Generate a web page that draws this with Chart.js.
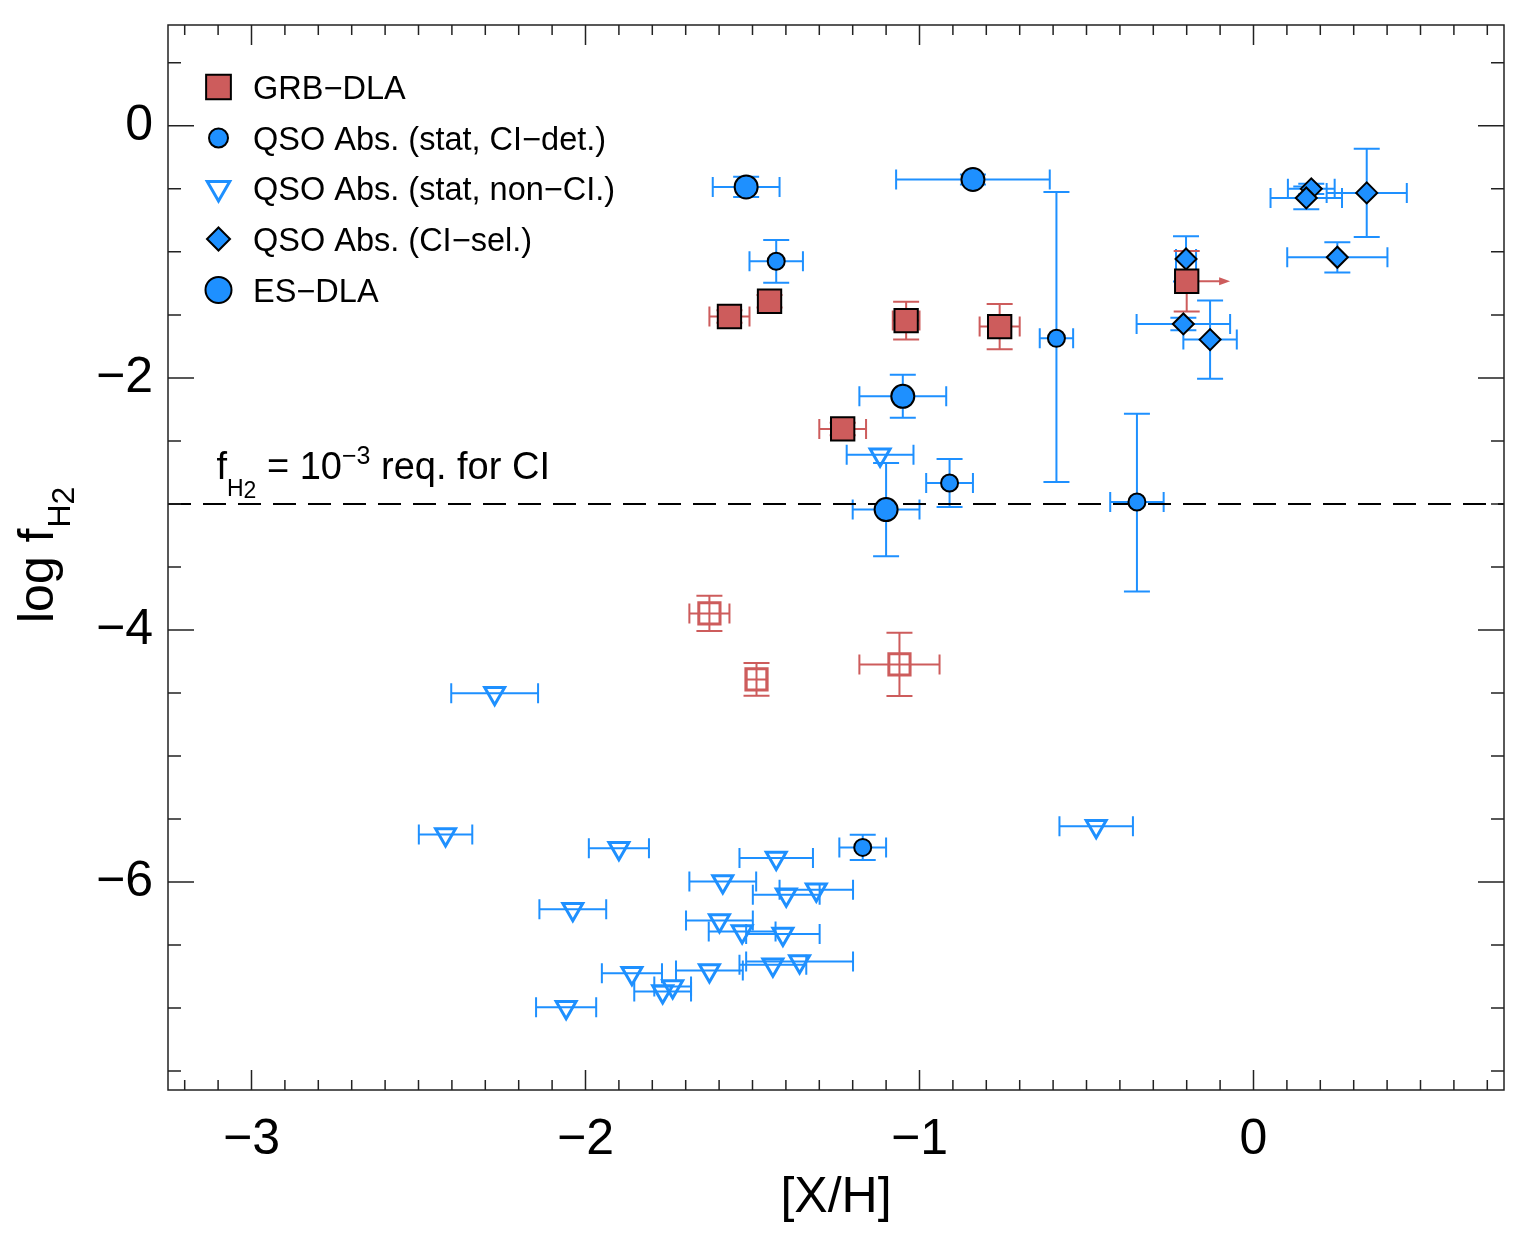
<!DOCTYPE html>
<html>
<head>
<meta charset="utf-8">
<script src="https://cdn.jsdelivr.net/npm/chart.js@4.4.1/dist/chart.umd.min.js"></script>
<style>
  html, body { margin: 0; padding: 0; background: #fff; }
  canvas { display: block; }
</style>
</head>
<body>
<canvas id="fh2" width="1536" height="1240"></canvas>
<script>
// axis ticks
const xTicks = [-3, -2, -1, 0]
const yTicks = [-6, -4, -2, 0]

// GRB-DLA, filled squares
const grbX    = [-1.569, -1.449, -1.040, -0.760, -1.230, -0.200]
const grbY    = [-1.513, -1.392, -1.545, -1.593, -2.405, -1.233]
const grbXErr = [0.06, 0.03, 0.04, 0.06, 0.07, 0]
const grbYErr = [0.05, 0.05, 0.15, 0.18, 0.05, 0.24]
const grbXLim = [0, 0, 0, 0, 0, 0.13]   // lower limit in [X/H] -> arrow

// GRB-DLA, open squares
const grbOpenX    = [-1.629, -1.488, -1.060]
const grbOpenY    = [-3.869, -4.392, -4.273]
const grbOpenXErr = [0.06, 0.03, 0.12]
const grbOpenYErr = [0.14, 0.13, 0.25]

// QSO abs. (stat, CI-det.)
const qsoDetX     = [-1.429, -0.590, -0.910, -0.349, -1.170]
const qsoDetY     = [-1.075, -1.686, -2.834, -2.985, -5.725]
const qsoDetXErr  = [0.08, 0.05, 0.07, 0.08, 0.07]
const qsoDetYErrL = [0.17, 1.14, 0.19, 0.71, 0.10]
const qsoDetYErrH = [0.17, 1.16, 0.19, 0.70, 0.10]

// QSO abs. (stat, non-CI) -> upper limits
const qsoNonX = [-1.118, -2.272, -2.419, -0.471, -1.900, -1.429, -1.589, -1.399, -1.309, -2.038,
                 -1.599, -1.531, -1.409, -1.861, -1.629, -1.439, -1.359, -1.769, -1.739, -2.058]
const qsoNonY = [-2.609, -4.503, -5.622, -5.558, -5.731, -5.810, -5.995, -6.101, -6.061, -6.215,
                 -6.305, -6.392, -6.413, -6.723, -6.702, -6.656, -6.630, -6.868, -6.829, -6.993]
const qsoNonXErr = [0.10, 0.13, 0.08, 0.11, 0.09, 0.11, 0.10, 0.10, 0.11, 0.10,
                    0.10, 0.10, 0.11, 0.09, 0.10, 0.10, 0.16, 0.085, 0.055, 0.09]

// QSO abs. (CI-sel.)
const qsoSelX    = [-0.202, -0.210, -0.130, 0.173, 0.158, 0.339, 0.251]
const qsoSelY    = [-1.056, -1.572, -1.696, -0.500, -0.572, -0.532, -1.043]
const qsoSelXErr = [0.03, 0.14, 0.08, 0.07, 0.107, 0.12, 0.15]
const qsoSelYErr = [0.18, 0.05, 0.31, 0.04, 0.09, 0.35, 0.12]

// ES-DLA
const esX    = [-1.519, -0.840, -1.050, -1.100]
const esY    = [-0.485, -0.426, -2.146, -3.045]
const esXErr = [0.10, 0.23, 0.13, 0.10]
const esYErr = [0.08, 0.04, 0.17, 0.37]

// threshold line
const threshY = -3
const legendLabels = ['GRB\u2212DLA', 'QSO Abs. (stat, CI\u2212det.)', 'QSO Abs. (stat, non\u2212CI.)', 'QSO Abs. (CI\u2212sel.)', 'ES\u2212DLA']

const RED = '#CD5C5C'
const BLUE = '#1E90FF'
const FONT = "'Liberation Sans', Arial, Helvetica, sans-serif"

const pts = (xs, ys) => xs.map((x, i) => ({x: x, y: ys[i]}))
const minus = v => (v < 0 ? '\u2212' : '') + Math.abs(v)

// error bar groups (drawn under the symbols)
const errGroups = [
  {x: grbOpenX, y: grbOpenY, xe: grbOpenXErr, yl: grbOpenYErr, yh: grbOpenYErr, color: RED},
  {x: qsoNonX, y: qsoNonY, xe: qsoNonXErr, yl: null, yh: null, color: BLUE},
  {x: qsoSelX, y: qsoSelY, xe: qsoSelXErr, yl: qsoSelYErr, yh: qsoSelYErr, color: BLUE},
  {x: qsoDetX, y: qsoDetY, xe: qsoDetXErr, yl: qsoDetYErrL, yh: qsoDetYErrH, color: BLUE},
  {x: esX, y: esY, xe: esXErr, yl: esYErr, yh: esYErr, color: BLUE},
  {x: grbX, y: grbY, xe: grbXErr, yl: grbYErr, yh: grbYErr, color: RED, lim: grbXLim},
]

const errorBars = {
  id: 'errorBars',
  beforeDatasetsDraw(chart) {
    const c = chart.ctx, sx = chart.scales.x, sy = chart.scales.y
    c.save()
    c.lineWidth = 2
    errGroups.forEach(g => {
      c.strokeStyle = g.color
      c.fillStyle = g.color
      g.x.forEach((xv, i) => {
        const px = sx.getPixelForValue(xv), py = sy.getPixelForValue(g.y[i])
        if (g.xe && g.xe[i] > 0) {
          const a = sx.getPixelForValue(xv - g.xe[i]), b = sx.getPixelForValue(xv + g.xe[i])
          c.beginPath()
          c.moveTo(a, py); c.lineTo(b, py)
          c.moveTo(a, py - 10); c.lineTo(a, py + 10)
          c.moveTo(b, py - 10); c.lineTo(b, py + 10)
          c.stroke()
        }
        if (g.yl && g.yl[i] > 0) {
          const a = sy.getPixelForValue(g.y[i] + g.yh[i]), b = sy.getPixelForValue(g.y[i] - g.yl[i])
          c.beginPath()
          c.moveTo(px, a); c.lineTo(px, b)
          c.moveTo(px - 13, a); c.lineTo(px + 13, a)
          c.moveTo(px - 13, b); c.lineTo(px + 13, b)
          c.stroke()
        }
        if (g.lim && g.lim[i] > 0) {
          const e = sx.getPixelForValue(xv + g.lim[i])
          c.beginPath()
          c.moveTo(px, py); c.lineTo(e - 8, py)
          c.stroke()
          c.beginPath()
          c.moveTo(e, py); c.lineTo(e - 11, py - 4); c.lineTo(e - 11, py + 4)
          c.closePath(); c.fill()
        }
      })
    })
    c.restore()
  }
}

// IDL-like frame: inward ticks on all four sides, legend, labels
function marker(c, type, x, y, r) {
  c.beginPath()
  if (type === 'square') {
    const h = r * Math.SQRT1_2
    c.rect(x - h, y - h, 2 * h, 2 * h)
  } else if (type === 'circle') {
    c.arc(x, y, r, 0, Math.PI * 2)
  } else if (type === 'tri') {
    c.moveTo(x, y + r)
    c.lineTo(x - r * 0.866, y - r * 0.5)
    c.lineTo(x + r * 0.866, y - r * 0.5)
    c.closePath()
  } else if (type === 'diamond') {
    c.moveTo(x, y - r); c.lineTo(x + r, y); c.lineTo(x, y + r); c.lineTo(x - r, y)
    c.closePath()
  }
}

const frame = {
  id: 'frame',
  afterDraw(chart) {
    const c = chart.ctx, a = chart.chartArea, sx = chart.scales.x, sy = chart.scales.y
    c.save()
    c.strokeStyle = '#222'
    c.lineWidth = 1.5
    c.strokeRect(a.left, a.top, a.right - a.left, a.bottom - a.top)
    c.beginPath()
    for (let k = -32; k <= 7; k++) {
      const px = sx.getPixelForValue(k / 10)
      const len = k % 10 === 0 ? 20 : 10
      c.moveTo(px, a.bottom); c.lineTo(px, a.bottom - len)
      c.moveTo(px, a.top); c.lineTo(px, a.top + len)
    }
    for (let k = -15; k <= 1; k++) {
      const py = sy.getPixelForValue(k / 2)
      const len = k % 4 === 0 ? 26 : 13
      c.moveTo(a.left, py); c.lineTo(a.left + len, py)
      c.moveTo(a.right, py); c.lineTo(a.right - len, py)
    }
    c.stroke()

    // legend
    const rows = [87, 138, 188, 239, 290]
    const syms = [
      {t: 'square', r: 17.5, fill: RED, stroke: '#000', w: 2},
      {t: 'circle', r: 9.5, fill: BLUE, stroke: '#000', w: 2},
      {t: 'tri', r: 13, fill: null, stroke: BLUE, w: 3},
      {t: 'diamond', r: 11.5, fill: BLUE, stroke: '#000', w: 2},
      {t: 'circle', r: 13, fill: BLUE, stroke: '#000', w: 2},
    ]
    syms.forEach((s, i) => {
      marker(c, s.t, 218.5, rows[i], s.r)
      if (s.fill) { c.fillStyle = s.fill; c.fill() }
      c.lineWidth = s.w; c.strokeStyle = s.stroke; c.stroke()
      c.fillStyle = '#000'
      c.font = '32.5px ' + FONT
      c.textAlign = 'left'; c.textBaseline = 'alphabetic'
      c.fillText(legendLabels[i], 253, rows[i] + 12)
    })

    // threshold annotation
    let tx = sx.getPixelForValue(-3.105), ty = sy.getPixelForValue(-2.805)
    const put = (s, size, dy) => {
      c.font = size + 'px ' + FONT
      c.fillText(s, tx, ty + dy)
      tx += c.measureText(s).width
    }
    put('f', 38, 0)
    put('H', 23, 17)
    put('2', 23, 19)
    put(' = 10', 38, 0)
    put('\u22123', 25, -15)
    put(' req. for CI', 38, 0)

    // axis titles
    c.font = '50px ' + FONT
    c.textAlign = 'center'
    c.fillText('[X/H]', 836, 1212)
    c.save()
    c.translate(53, 623)
    c.rotate(-Math.PI / 2)
    c.textAlign = 'left'
    c.font = '50px ' + FONT
    c.fillText('log f', 0, 0)
    const w = c.measureText('log f').width
    c.font = '32px ' + FONT
    c.fillText('H', w + 1, 17)
    const wh = c.measureText('H').width
    c.fillText('2', w + 1 + wh, 21)
    c.restore()
    c.restore()
  }
}

new Chart(document.getElementById('fh2'), {
  type: 'scatter',
  data: {
    datasets: [
      {label: 'GRB-DLA', data: pts(grbX, grbY), pointStyle: 'rect', pointRadius: 16.5,
       backgroundColor: RED, borderColor: '#000', borderWidth: 2},
      {label: 'ES-DLA', data: pts(esX, esY), pointStyle: 'circle', pointRadius: 11.5,
       backgroundColor: BLUE, borderColor: '#000', borderWidth: 2},
      {label: 'QSO CI-det', data: pts(qsoDetX, qsoDetY), pointStyle: 'circle', pointRadius: 8.5,
       backgroundColor: BLUE, borderColor: '#000', borderWidth: 2},
      {label: 'QSO CI-sel', data: pts(qsoSelX, qsoSelY), pointStyle: 'rectRot', pointRadius: 10.5,
       backgroundColor: BLUE, borderColor: '#000', borderWidth: 2},
      {label: 'QSO non-CI', data: pts(qsoNonX, qsoNonY), pointStyle: 'triangle', rotation: 180,
       pointRadius: 11.5, backgroundColor: 'rgba(0,0,0,0)', borderColor: BLUE, borderWidth: 3},
      {label: 'GRB-DLA open', data: pts(grbOpenX, grbOpenY), pointStyle: 'rect', pointRadius: 15,
       backgroundColor: 'rgba(0,0,0,0)', borderColor: RED, borderWidth: 3},
      {label: 'threshold', type: 'line', data: [{x: -3.25, y: threshY}, {x: 0.75, y: threshY}],
       borderColor: '#000', borderWidth: 2, borderDash: [23, 12], pointRadius: 0, fill: false}
    ]
  },
  options: {
    responsive: false,
    animation: false,
    layout: {padding: {top: 25, right: 32, left: 0, bottom: 0}},
    plugins: {legend: {display: false}, tooltip: {enabled: false}},
    scales: {
      x: {
        type: 'linear', min: -3.25, max: 0.75,
        afterBuildTicks: s => { s.ticks = xTicks.map(v => ({value: v})) },
        afterFit: s => { s.height = 150; s.paddingLeft = 0; s.paddingRight = 0 },
        grid: {display: false, drawTicks: false},
        border: {display: false},
        ticks: {font: {size: 50, family: FONT}, color: '#000', padding: 20,
                maxRotation: 0, autoSkip: false, callback: v => minus(v)}
      },
      y: {
        type: 'linear', min: -7.65, max: 0.8,
        afterBuildTicks: s => { s.ticks = yTicks.map(v => ({value: v})) },
        afterFit: s => { s.width = 168; s.paddingTop = 0; s.paddingBottom = 0 },
        grid: {display: false, drawTicks: false},
        border: {display: false},
        ticks: {font: {size: 50, family: FONT}, color: '#000', padding: 15,
                autoSkip: false, callback: v => minus(v)}
      }
    }
  },
  plugins: [errorBars, frame]
})
</script>
</body>
</html>
